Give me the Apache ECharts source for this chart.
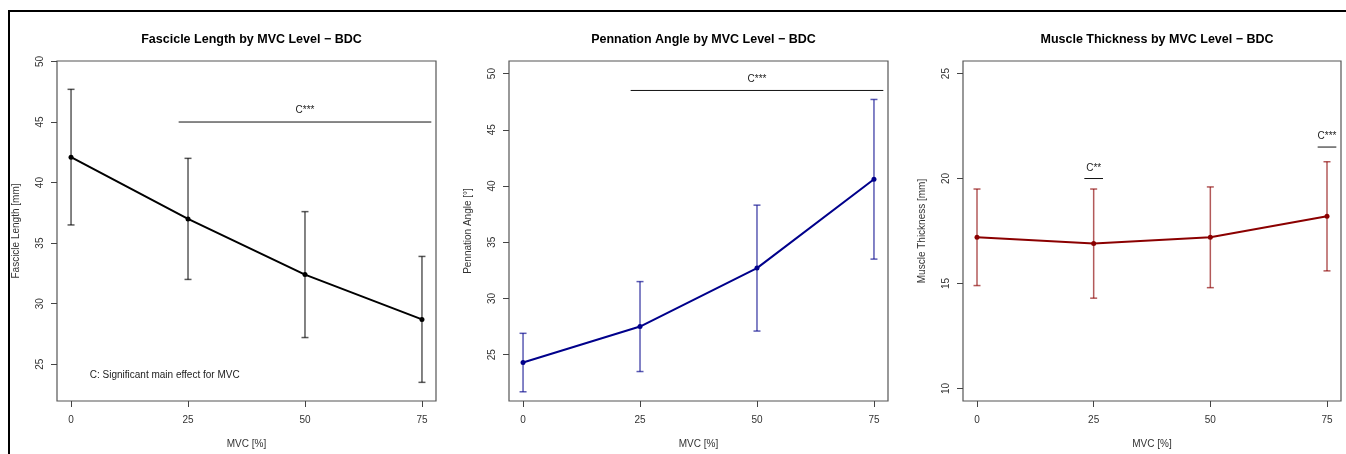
<!DOCTYPE html>
<html>
<head>
<meta charset="utf-8">
<script src="https://cdn.jsdelivr.net/npm/echarts@6/dist/echarts.min.js"></script>
<style>
html,body{margin:0;padding:0;background:#fff;}
#chart{width:1346px;height:454px;}
</style>
</head>
<body>
<div id="chart"></div>
<script>
// ---- data ----
const mvc = [0, 25, 50, 75];
const mvcTicks = [0, 25, 50, 75];

const flMean  = [42.1, 37.0, 32.4, 28.7];
const flLower = [36.5, 32.0, 27.2, 23.5];
const flUpper = [47.7, 42.0, 37.6, 33.9];
const flTicks = [25, 30, 35, 40, 45, 50];
const flSigLines  = [[23, 77, 45]];
const flSigLabels = [[50, 46, 'C***']];
const flNote = [[4, 24.1, 'C: Significant main effect for MVC']];

const paMean  = [24.3, 27.5, 32.7, 40.6];
const paLower = [21.7, 23.5, 27.1, 33.5];
const paUpper = [26.9, 31.5, 38.3, 47.7];
const paTicks = [25, 30, 35, 40, 45, 50];
const paSigLines  = [[23, 77, 48.5]];
const paSigLabels = [[50, 49.5, 'C***']];

const mtMean  = [17.2, 16.9, 17.2, 18.2];
const mtLower = [14.9, 14.3, 14.8, 15.6];
const mtUpper = [19.5, 19.5, 19.6, 20.8];
const mtTicks = [10, 15, 20, 25];
const mtSigLines  = [[23, 27, 20], [73, 77, 21.5]];
const mtSigLabels = [[25, 20.5, 'C**'], [75, 22, 'C***']];

const titles = ['Fascicle Length by MVC Level \u2212 BDC', 'Pennation Angle by MVC Level \u2212 BDC', 'Muscle Thickness by MVC Level \u2212 BDC'];
const yNames = ['Fascicle Length [mm]', 'Pennation Angle [\u00b0]', 'Muscle Thickness [mm]'];
const xName = 'MVC [%]';

// ---- layout ----
const grids = [
  {left: 57, top: 61, width: 379, height: 343},
  {left: 509, top: 61, width: 379, height: 343},
  {left: 963, top: 61, width: 378, height: 343}
];
const yRanges = [[21.96, 50.04], [20.88, 51.12], [9.4, 25.6]];
const xRange = [-3, 78];
const lineColors = ['#000000', '#00008B', '#8B0000'];
const barColors = ['rgba(0,0,0,0.65)', 'rgba(0,0,139,0.65)', 'rgba(139,0,0,0.65)'];

const FONT = 'Liberation Sans, Arial, Helvetica, sans-serif';

function errRender(color){
  return function(params, api){
    const x = api.value(0), lo = api.value(1), hi = api.value(2);
    const p1 = api.coord([x, lo]), p2 = api.coord([x, hi]);
    const hw = 3.5;
    const st = {stroke: color, lineWidth: 1.5};
    return {type: 'group', children: [
      {type: 'line', shape: {x1: p1[0], y1: p1[1], x2: p2[0], y2: p2[1]}, style: st},
      {type: 'line', shape: {x1: p1[0]-hw, y1: p1[1], x2: p1[0]+hw, y2: p1[1]}, style: st},
      {type: 'line', shape: {x1: p2[0]-hw, y1: p2[1], x2: p2[0]+hw, y2: p2[1]}, style: st}
    ]};
  };
}
function sigLineRender(params, api){
  const a = api.coord([api.value(0), api.value(2)]);
  const b = api.coord([api.value(1), api.value(2)]);
  return {type: 'line', shape: {x1: a[0], y1: a[1], x2: b[0], y2: b[1]}, style: {stroke: '#111', lineWidth: 1}};
}
function textRender(align){
  return function(params, api){
    const p = api.coord([api.value(0), api.value(1)]);
    return {type: 'text', x: p[0], y: p[1], style: {text: api.value(2), textAlign: align, textVerticalAlign: 'middle', font: '10px ' + FONT, fill: '#222'}};
  };
}

const means = [flMean, paMean, mtMean];
const lowers = [flLower, paLower, mtLower];
const uppers = [flUpper, paUpper, mtUpper];
const yTicks = [flTicks, paTicks, mtTicks];
const sigLines = [flSigLines, paSigLines, mtSigLines];
const sigLabels = [flSigLabels, paSigLabels, mtSigLabels];

const option = {
  animation: false,
  backgroundColor: '#fff',
  textStyle: {fontFamily: FONT},
  title: grids.map((g, i) => ({
    text: titles[i],
    left: g.left + g.width / 2,
    top: 28,
    textAlign: 'center',
    textStyle: {fontSize: 12.5, fontWeight: 'bold', color: '#000', fontFamily: FONT}
  })),
  grid: grids.map(g => Object.assign({show: true, borderColor: '#555', borderWidth: 1.2, containLabel: false}, g)),
  xAxis: grids.map((g, i) => ({
    type: 'value', gridIndex: i, min: xRange[0], max: xRange[1],
    splitLine: {show: false},
    axisLine: {show: false, onZero: false},
    axisTick: {show: true, customValues: mvcTicks, length: 6, lineStyle: {color: '#444', width: 1}},
    axisLabel: {customValues: mvcTicks, fontSize: 10, color: '#333', margin: 14, fontFamily: FONT},
    name: xName, nameLocation: 'middle', nameGap: 38,
    nameTextStyle: {fontSize: 10, color: '#333', fontFamily: FONT}
  })),
  yAxis: grids.map((g, i) => ({
    type: 'value', gridIndex: i, min: yRanges[i][0], max: yRanges[i][1],
    splitLine: {show: false},
    axisLine: {show: false, onZero: false},
    axisTick: {show: true, customValues: yTicks[i], length: 6, lineStyle: {color: '#444', width: 1}},
    axisLabel: {customValues: yTicks[i], rotate: 90, fontSize: 10, color: '#333', margin: 12, fontFamily: FONT},
    name: yNames[i], nameLocation: 'middle', nameGap: 36, nameRotate: 90,
    nameTextStyle: {fontSize: 10, color: '#333', fontFamily: FONT}
  })),
  graphic: [
    {type: 'line', shape: {x1: 9, y1: 11, x2: 9, y2: 454}, style: {stroke: '#000', lineWidth: 2}},
    {type: 'line', shape: {x1: 8, y1: 11, x2: 1346, y2: 11}, style: {stroke: '#000', lineWidth: 2}}
  ],
  series: []
};

for (let i = 0; i < 3; i++) {
  option.series.push({
    type: 'custom', xAxisIndex: i, yAxisIndex: i,
    renderItem: errRender(barColors[i]),
    data: mvc.map((x, k) => [x, lowers[i][k], uppers[i][k]]),
    z: 2
  });
  option.series.push({
    type: 'line', xAxisIndex: i, yAxisIndex: i,
    data: mvc.map((x, k) => [x, means[i][k]]),
    lineStyle: {color: lineColors[i], width: 2},
    itemStyle: {color: lineColors[i]},
    symbol: 'circle', symbolSize: 5, showSymbol: true,
    z: 3
  });
  option.series.push({
    type: 'custom', xAxisIndex: i, yAxisIndex: i,
    renderItem: sigLineRender,
    data: sigLines[i], z: 3
  });
  option.series.push({
    type: 'custom', xAxisIndex: i, yAxisIndex: i,
    renderItem: textRender('center'),
    dimensions: ['x', 'y', {name: 't', type: 'ordinal'}],
    data: sigLabels[i], z: 3
  });
}
option.series.push({
  type: 'custom', xAxisIndex: 0, yAxisIndex: 0,
  renderItem: textRender('left'),
  dimensions: ['x', 'y', {name: 't', type: 'ordinal'}],
  data: flNote, z: 3
});

const chart = echarts.init(document.getElementById('chart'), null, {renderer: 'canvas'});
chart.setOption(option);
</script>
</body>
</html>
